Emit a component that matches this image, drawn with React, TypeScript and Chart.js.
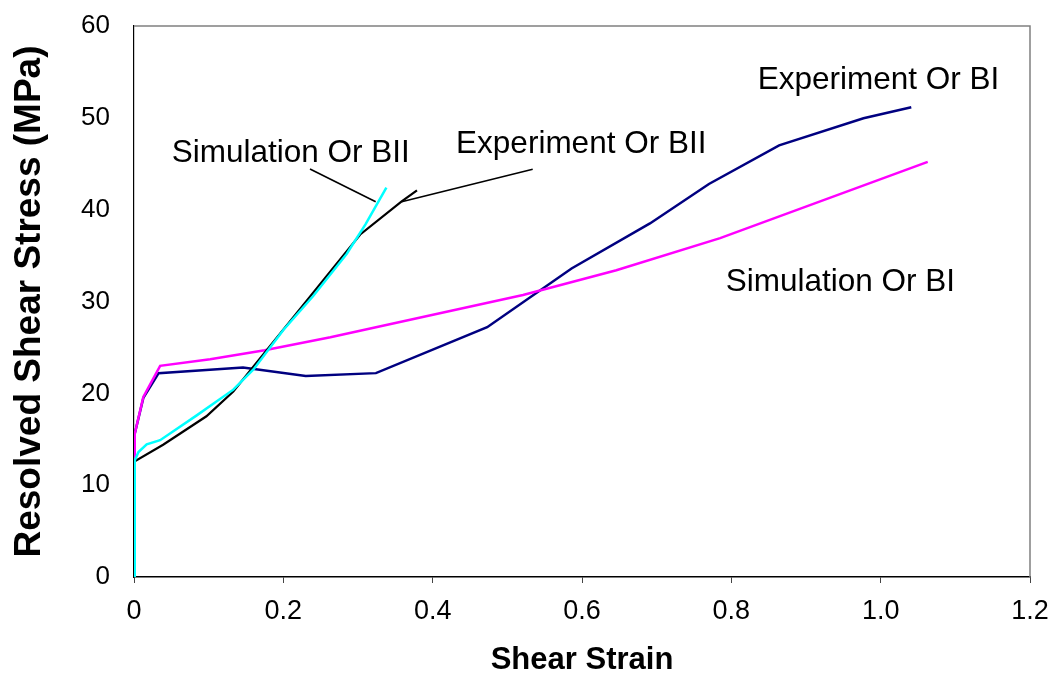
import { useEffect, useRef } from "react";
import { Chart, registerables } from "chart.js";

Chart.register(...registerables);

// ---- Data ----
const expBIx = [0, 0.001, 0.0125, 0.033, 0.146, 0.23, 0.324, 0.473, 0.586, 0.691, 0.77, 0.864, 0.977, 1.041];
const expBIy = [0, 15.6, 19.5, 22.2, 22.8, 21.9, 22.2, 27.2, 33.6, 38.5, 42.8, 47.0, 49.95, 51.15];

const simBIx = [0, 0.001, 0.0125, 0.035, 0.102, 0.175, 0.263, 0.521, 0.646, 0.785, 1.063];
const simBIy = [0, 15.6, 19.6, 23.0, 23.7, 24.7, 26.1, 30.7, 33.4, 36.9, 45.2];

const expBIIx = [0, 0.001, 0.039, 0.097, 0.133, 0.303, 0.3585, 0.379];
const expBIIy = [0, 12.6, 14.4, 17.5, 20.2, 37.3, 40.9, 42.1];

const simBIIx = [0, 0.001, 0.006, 0.017, 0.035, 0.084, 0.133, 0.16, 0.2, 0.24, 0.285, 0.31, 0.338];
const simBIIy = [0, 12.7, 13.6, 14.45, 14.9, 17.6, 20.4, 22.6, 26.9, 30.6, 35.2, 38.4, 42.4];

const xTickLabels = ["0", "0.2", "0.4", "0.6", "0.8", "1.0", "1.2"];
const yTickLabels = ["0", "10", "20", "30", "40", "50", "60"];

// In-chart labels (data coordinates, text centre x / baseline y)
const noteTexts = ["Simulation Or BII", "Experiment Or BII", "Experiment Or BI", "Simulation Or BI"];
const noteX = [0.21, 0.599, 0.997, 0.946];
const noteY = [45.23, 46.14, 53.1, 31.18];

// Leader lines (data coordinates)
const leaderFromX = [0.2357, 0.534];
const leaderFromY = [44.43, 44.4];
const leaderToX = [0.3237, 0.3585];
const leaderToY = [40.87, 40.87];

const FONT = "'Liberation Sans', Arial, Helvetica, sans-serif";

const toPts = (xs: number[], ys: number[]) => xs.map((x, i) => ({ x, y: ys[i] }));

const framePlugin = {
  id: "frame",
  beforeDatasetsDraw(chart: any) {
    const { ctx, chartArea } = chart;
    ctx.save();
    ctx.strokeStyle = "#808080";
    ctx.lineWidth = 1.5;
    ctx.beginPath();
    ctx.moveTo(chartArea.left, chartArea.top);
    ctx.lineTo(chartArea.right, chartArea.top);
    ctx.lineTo(chartArea.right, chartArea.bottom);
    ctx.stroke();
    ctx.restore();
  },
};

const notesPlugin = {
  id: "notes",
  afterDatasetsDraw(chart: any) {
    const { ctx } = chart;
    const xs = chart.scales.x;
    const ys = chart.scales.y;
    ctx.save();
    ctx.strokeStyle = "#000";
    ctx.lineWidth = 1.6;
    for (let i = 0; i < leaderFromX.length; i++) {
      ctx.beginPath();
      ctx.moveTo(xs.getPixelForValue(leaderFromX[i]), ys.getPixelForValue(leaderFromY[i]));
      ctx.lineTo(xs.getPixelForValue(leaderToX[i]), ys.getPixelForValue(leaderToY[i]));
      ctx.stroke();
    }
    ctx.fillStyle = "#000";
    ctx.font = `31.5px ${FONT}`;
    ctx.textAlign = "center";
    ctx.textBaseline = "alphabetic";
    for (let i = 0; i < noteTexts.length; i++) {
      ctx.fillText(noteTexts[i], xs.getPixelForValue(noteX[i]), ys.getPixelForValue(noteY[i]));
    }
    ctx.restore();
  },
};

export default function App() {
  const ref = useRef<HTMLCanvasElement | null>(null);

  useEffect(() => {
    if (!ref.current) return;
    const chart = new Chart(ref.current, {
      type: "line",
      data: {
        datasets: [
          {
            label: "Simulation Or BII",
            data: toPts(simBIIx, simBIIy),
            borderColor: "#00FFFF",
            borderWidth: 2.5,
            pointRadius: 0,
            order: 0,
          },
          {
            label: "Experiment Or BII",
            data: toPts(expBIIx, expBIIy),
            borderColor: "#000000",
            borderWidth: 2.2,
            pointRadius: 0,
            order: 1,
          },
          {
            label: "Simulation Or BI",
            data: toPts(simBIx, simBIy),
            borderColor: "#FF00FF",
            borderWidth: 2.5,
            pointRadius: 0,
            order: 2,
          },
          {
            label: "Experiment Or BI",
            data: toPts(expBIx, expBIy),
            borderColor: "#000080",
            borderWidth: 2.5,
            pointRadius: 0,
            order: 3,
          },
        ],
      },
      options: {
        animation: false,
        responsive: true,
        maintainAspectRatio: false,
        layout: { padding: { top: 26, right: 19, left: 0, bottom: 0 } },
        plugins: {
          legend: { display: false },
          tooltip: { enabled: false },
        },
        scales: {
          x: {
            type: "linear",
            min: 0,
            max: 1.2,
            afterFit: (s: any) => {
              s.height = 104;
              s.paddingLeft = 0;
              s.paddingRight = 0;
            },
            afterBuildTicks: (s: any) => {
              s.ticks = xTickLabels.map((_, i) => ({ value: i * 0.2 }));
            },
            ticks: {
              font: { family: FONT, size: 27 },
              color: "#000",
              padding: 12,
              maxRotation: 0,
              autoSkip: false,
              callback: (_v: any, i: number) => xTickLabels[i],
            },
            grid: {
              display: true,
              drawOnChartArea: false,
              drawTicks: true,
              tickLength: 6,
              color: "#444",
            },
            border: { display: true, color: "#000", width: 1.5 },
            title: {
              display: true,
              text: "Shear Strain",
              font: { family: FONT, size: 31, weight: "bold" },
              color: "#000",
              padding: { top: 0, bottom: 2 },
            },
          },
          y: {
            type: "linear",
            min: 0,
            max: 60,
            afterFit: (s: any) => {
              s.width = 134;
              s.paddingTop = 0;
              s.paddingBottom = 0;
            },
            afterBuildTicks: (s: any) => {
              s.ticks = yTickLabels.map((_, i) => ({ value: i * 10 }));
            },
            ticks: {
              font: { family: FONT, size: 26 },
              color: "#000",
              padding: 24,
              autoSkip: false,
              callback: (_v: any, i: number) => yTickLabels[i],
            },
            grid: { display: false, drawTicks: false },
            border: { display: true, color: "#000", width: 1.2 },
            title: {
              display: true,
              text: "Resolved Shear Stress (MPa)",
              font: { family: FONT, size: 37, weight: "bold", lineHeight: 1.2 },
              color: "#000",
              padding: { top: 8, bottom: 0 },
            },
          },
        },
      },
      plugins: [framePlugin, notesPlugin],
    });
    return () => chart.destroy();
  }, []);

  return (
    <div style={{ position: "fixed", left: 0, top: 0, width: 1049, height: 681, background: "#fff" }}>
      <canvas ref={ref} />
    </div>
  );
}
